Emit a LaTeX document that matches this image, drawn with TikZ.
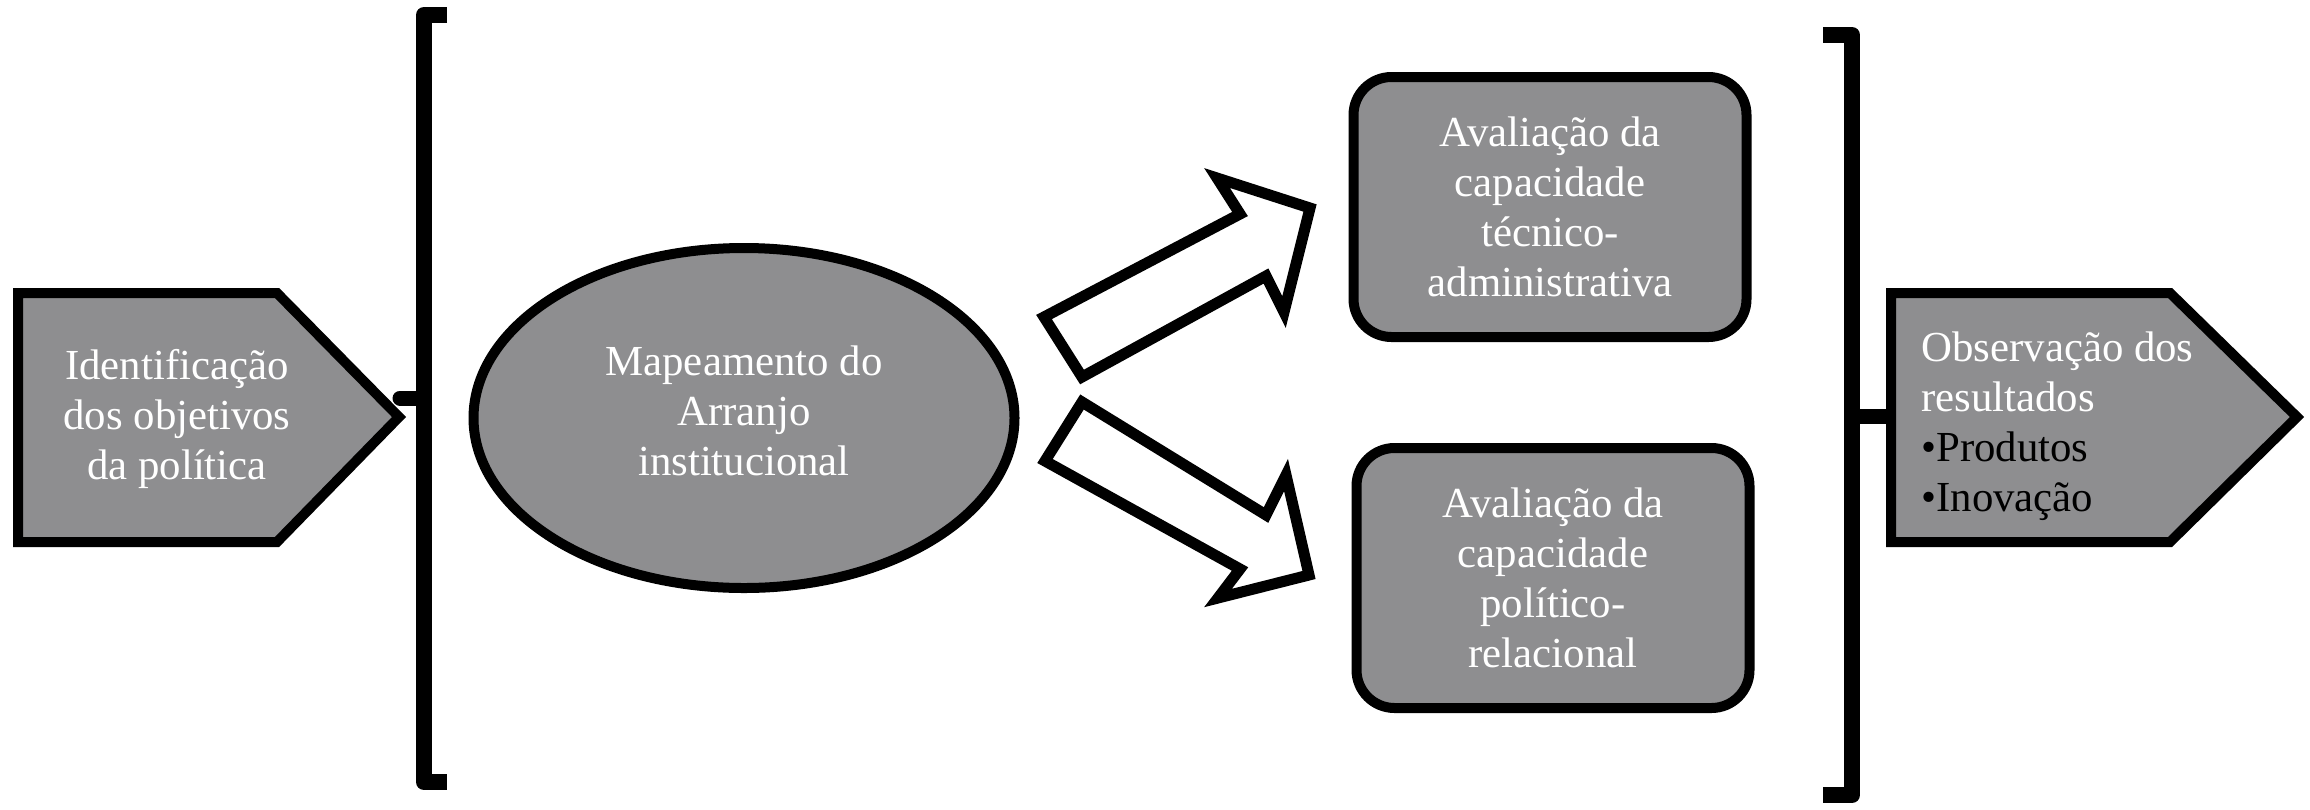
\documentclass[tikz,border=0pt]{standalone}
\usepackage{fontspec}
\setmainfont{Liberation Serif}
\usetikzlibrary{shapes.geometric}
\definecolor{boxgray}{RGB}{142,142,144}
\tikzset{
  shapebox/.style={draw=black, line width=5pt, fill=boxgray, line join=miter},
  bracketline/.style={draw=black, line width=8pt, line join=round},
  stubline/.style={draw=black, line width=7.5pt, line cap=round},
  blockarrow/.style={draw=black, line width=5.5pt, fill=white, line join=miter, miter limit=20},
  wtext/.style={text=white, font=\fontsize{21.4}{25}\selectfont, align=center, inner sep=0pt},
  rbox/.style={shapebox, rounded corners=19pt, minimum width=196.5pt, minimum height=130pt, inner sep=0pt},
}
\begin{document}
\begin{tikzpicture}[x=0.5pt,y=-0.5pt]
\useasboundingbox (0,0) rectangle (2310,809);
% left pentagon
\draw[shapebox] (18,293) -- (277,293) -- (399,417) -- (277,542) -- (18,542) -- cycle;
\node[wtext] (ident) at (177,419) {Identificação\\dos objetivos\\da política};
\coordinate (identtip) at (400,398);
% left bracket
\draw[bracketline] (447,15) -- (424,15) coordinate (lbtop) -- (424,782) coordinate (lbbot) -- (447,782);
\coordinate (lbmid) at (424,398);
\draw[stubline] (identtip) -- (lbmid);
% ellipse
\node[ellipse, shapebox, minimum width=270.5pt, minimum height=170pt, inner sep=0pt] (map) at (744,418) {};
\node[wtext] (maptext) at (744,411) {Mapeamento do\\Arranjo\\institucional};
% block arrows
\draw[blockarrow] (1044,317) -- (1082,377) -- (1266,276) -- (1284,312) -- (1310,208) -- (1217,178) -- (1240,214) -- cycle;
\draw[blockarrow] (1082,402) -- (1266,515) -- (1286,475) -- (1309,575) -- (1218,598) -- (1240,569) -- (1045,461) -- cycle;
% rounded boxes
\node[rbox] (tec) at (1550,207) {};
\node[wtext] (tectext) at (tec.center) {Avaliação da\\capacidade\\técnico-\\administrativa};
\node[rbox] (pol) at (1553,578) {};
\node[wtext] (poltext) at (pol.center) {Avaliação da\\capacidade\\político-\\relacional};
% right bracket
\draw[bracketline] (1823,35) -- (1852,35) -- (1852,795) -- (1823,795);
\coordinate (rbmid) at (1852,416);
% right pentagon
\draw[shapebox] (1891,293) -- (2170,293) -- (2297,417) -- (2170,542) -- (1891,542) -- cycle;
\coordinate (obsleft) at (1891,416);
\draw[stubline, line cap=butt] (rbmid) -- (obsleft);
\node[wtext, align=left, anchor=west] (obs) at (1921,426) {Observação dos\\resultados\\\textcolor{black}{•Produtos}\\\textcolor{black}{•Inovação}};
\end{tikzpicture}
\end{document}
